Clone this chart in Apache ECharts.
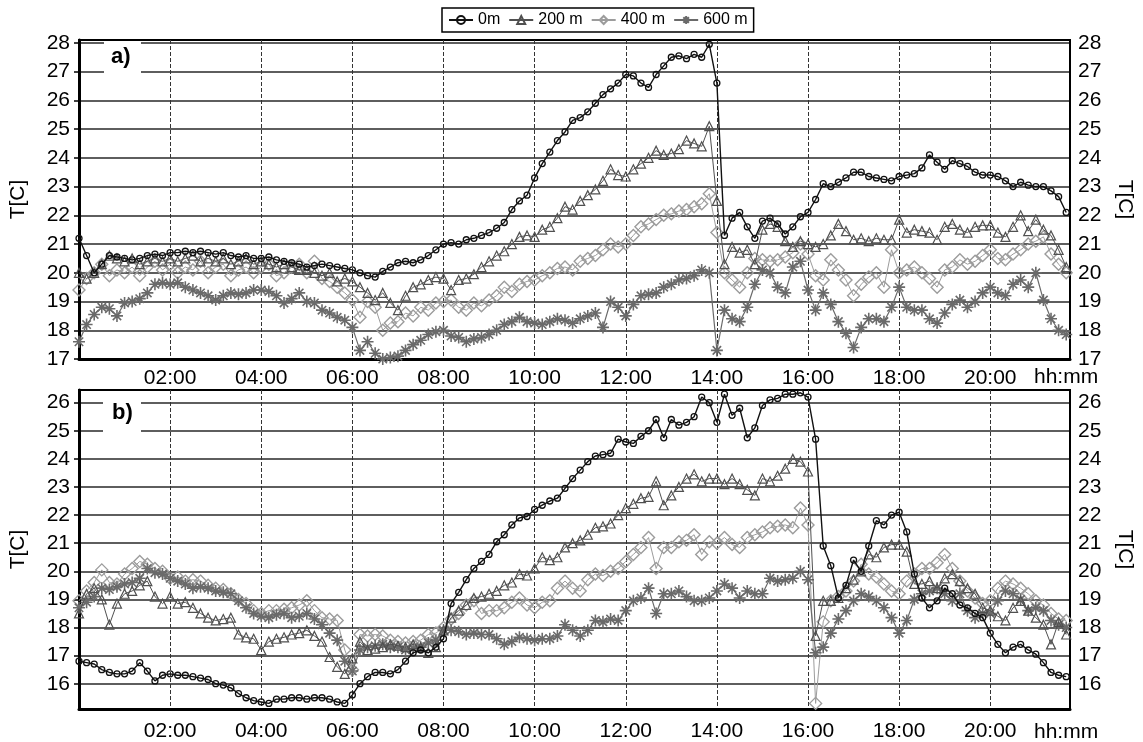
<!DOCTYPE html>
<html><head><meta charset="utf-8">
<script src="https://cdn.jsdelivr.net/npm/echarts@6/dist/echarts.min.js"></script>
<style>html,body{margin:0;padding:0;background:#fff}#c{width:1143px;height:742px}</style>
</head><body><div id="c"></div>
<script>
// sampling step (minutes) of all series
const STEP_MIN = 10;
const SERIES_NAMES = ['0m', '200 m', '400 m', '600 m'];
const X_TICKS = [120, 240, 360, 480, 600, 720, 840, 960, 1080, 1200];
const Y_TICKS_A = [17, 18, 19, 20, 21, 22, 23, 24, 25, 26, 27, 28];
const Y_TICKS_B = [16, 17, 18, 19, 20, 21, 22, 23, 24, 25, 26];

// panel a) values, one row per hour (10-min samples)
const A_0m = [
 21.2,20.6,20.0,20.3,20.6,20.55, 20.5,20.45,20.5,20.6,20.65,20.6, 20.7,20.7,20.75,20.7,20.75,20.7,
 20.65,20.7,20.6,20.55,20.6,20.5, 20.5,20.55,20.45,20.4,20.35,20.3, 20.2,20.25,20.3,20.25,20.2,20.15,
 20.1,20.0,19.9,19.85,20.05,20.2, 20.35,20.4,20.35,20.45,20.6,20.8, 21.0,21.05,21.0,21.15,21.2,21.3,
 21.4,21.55,21.75,22.2,22.5,22.7, 23.3,23.8,24.2,24.6,24.9,25.3, 25.4,25.6,25.9,26.2,26.4,26.6,
 26.9,26.85,26.6,26.45,26.9,27.2, 27.5,27.55,27.45,27.6,27.5,27.95, 26.6,21.3,21.9,22.1,21.6,21.2,
 21.8,21.9,21.7,21.35,21.6,21.95, 22.1,22.55,23.1,23.0,23.15,23.3, 23.5,23.5,23.35,23.3,23.25,23.2,
 23.35,23.4,23.45,23.65,24.1,23.85, 23.6,23.9,23.8,23.7,23.5,23.4, 23.4,23.35,23.2,23.0,23.15,23.05,
 23.0,23.0,22.85,22.65,22.1];
const A_200m = [
 20.0,19.8,20.0,20.3,20.6,20.5, 20.4,20.5,20.3,20.4,20.5,20.4, 20.5,20.4,20.5,20.6,20.4,20.5,
 20.4,20.5,20.3,20.4,20.5,20.3, 20.4,20.3,20.2,20.3,20.2,20.1, 20.1,20.0,19.9,20.0,19.7,19.8,
 19.7,19.5,19.3,19.05,19.3,18.95, 18.7,19.2,19.5,19.6,19.75,19.85, 19.8,19.4,19.75,19.8,19.95,20.2,
 20.4,20.6,20.75,21.0,21.25,21.3, 21.25,21.5,21.6,21.9,22.3,22.2, 22.5,22.7,22.9,23.2,23.6,23.4,
 23.35,23.6,23.8,24.0,24.25,24.1, 24.15,24.3,24.6,24.5,24.4,25.1, 22.5,20.3,20.9,20.7,20.8,20.3,
 21.5,21.7,21.6,21.1,20.9,21.1, 21.0,20.9,21.0,21.3,21.7,21.45, 21.15,21.2,21.1,21.2,21.15,21.15,
 21.85,21.4,21.5,21.45,21.4,21.15, 21.6,21.7,21.5,21.4,21.6,21.65, 21.65,21.4,21.25,21.6,22.0,21.45,
 21.85,21.5,21.3,20.8,20.2];
const A_400m = [
 19.4,19.8,20.0,20.3,19.9,20.1, 20.0,20.2,19.9,20.2,20.4,20.1, 20.3,20.0,20.2,20.1,20.4,20.0,
 20.2,20.3,19.9,20.1,20.2,20.0, 20.2,20.3,19.9,20.0,20.2,20.3, 20.0,20.4,19.8,19.7,19.5,19.3,
 19.05,18.45,19.0,18.8,18.0,18.25, 18.3,18.6,18.5,18.8,18.7,18.95, 19.0,19.05,18.8,18.7,18.95,18.85,
 19.05,19.2,19.5,19.35,19.6,19.7, 19.75,19.9,20.0,20.15,20.2,20.1, 20.4,20.5,20.6,20.8,21.0,20.9,
 21.0,21.3,21.6,21.7,21.85,22.0, 22.05,22.15,22.2,22.3,22.4,22.75, 21.4,20.0,19.75,19.5,20.0,20.5,
 20.45,20.4,20.45,20.55,20.7,21.0, 20.65,19.9,19.75,20.45,20.1,19.75, 19.2,19.6,19.85,20.0,19.5,20.8,
 20.0,20.1,20.2,20.0,19.8,19.5, 20.1,20.2,20.45,20.3,20.4,20.6, 20.8,20.5,20.45,20.65,20.8,21.0,
 21.1,21.25,20.65,20.3,20.0];
const A_600m = [
 17.6,18.2,18.55,18.8,18.75,18.5, 18.95,19.0,19.1,19.3,19.6,19.65, 19.6,19.65,19.5,19.4,19.3,19.2,
 19.05,19.2,19.3,19.25,19.3,19.4, 19.4,19.35,19.2,18.95,19.1,19.3, 19.0,18.95,18.7,18.6,18.45,18.35,
 18.1,17.3,17.6,17.2,17.0,17.05, 17.1,17.3,17.5,17.65,17.85,17.95, 18.0,17.8,17.75,17.6,17.7,17.75,
 17.85,18.0,18.2,18.3,18.45,18.3, 18.25,18.2,18.3,18.4,18.35,18.25, 18.4,18.5,18.6,18.1,19.0,18.8,
 18.5,18.9,19.2,19.25,19.3,19.5, 19.6,19.75,19.8,19.9,20.1,20.0, 17.3,18.7,18.4,18.3,18.8,19.6,
 20.1,20.0,19.5,19.3,20.2,20.4, 19.4,18.7,19.3,18.9,18.3,17.9, 17.4,18.1,18.4,18.4,18.3,18.8,
 19.5,18.8,18.7,18.7,18.4,18.25, 18.6,18.9,19.05,18.8,19.0,19.3, 19.5,19.3,19.2,19.6,19.75,19.5,
 20.0,19.05,18.4,18.0,17.85];

// panel b) values
const B_0m = [
 16.8,16.75,16.7,16.5,16.4,16.35, 16.35,16.45,16.75,16.45,16.1,16.3, 16.35,16.3,16.3,16.25,16.2,16.15,
 16.0,15.95,15.85,15.65,15.5,15.4, 15.35,15.3,15.45,15.45,15.5,15.5, 15.45,15.5,15.5,15.45,15.35,15.3,
 15.6,16.0,16.25,16.4,16.4,16.35, 16.5,16.8,17.1,17.2,17.1,17.3, 17.6,18.85,19.25,19.7,20.1,20.35,
 20.6,21.05,21.3,21.65,21.9,21.95, 22.2,22.35,22.5,22.6,22.95,23.3, 23.6,23.9,24.1,24.15,24.2,24.7,
 24.6,24.55,24.8,25.0,25.4,24.75, 25.4,25.2,25.3,25.5,26.2,26.0, 25.3,26.3,25.55,25.8,24.75,25.1,
 25.9,26.1,26.15,26.3,26.3,26.35, 26.2,24.7,20.9,20.2,19.05,19.5, 20.4,20.0,20.9,21.8,21.65,22.0,
 22.1,21.4,19.9,19.05,18.7,18.95, 19.4,19.2,18.8,18.7,18.5,18.35, 17.8,17.4,17.1,17.3,17.4,17.2,
 17.05,16.75,16.4,16.3,16.25];
const B_200m = [
 18.5,19.2,19.4,19.0,18.1,18.85, 19.2,19.3,19.5,19.65,19.1,18.85, 19.1,18.85,18.9,18.7,18.5,18.35,
 18.25,18.3,18.35,17.75,17.65,17.6, 17.2,17.5,17.6,17.65,17.75,17.8, 17.9,17.7,17.5,16.95,16.6,16.35,
 16.9,17.5,17.2,17.25,17.3,17.4, 17.35,17.3,17.4,17.3,17.1,17.3, 17.9,18.35,18.6,18.8,19.05,19.1,
 19.2,19.3,19.5,19.6,19.9,19.85, 20.1,20.5,20.4,20.5,20.85,21.0, 21.1,21.3,21.55,21.6,21.7,22.0,
 22.25,22.4,22.6,22.65,23.2,22.35, 22.7,23.0,23.3,23.45,23.2,23.3, 23.3,23.1,23.3,23.1,22.9,22.7,
 23.3,23.2,23.4,23.65,24.0,23.9, 23.55,17.7,18.95,18.95,19.05,19.4, 19.7,20.0,20.6,20.5,20.85,20.95,
 20.95,20.7,19.55,19.55,19.65,19.4, 19.75,19.9,19.65,19.4,19.2,18.7, 18.6,18.4,18.25,18.7,18.95,18.6,
 18.35,18.1,17.4,18.2,17.75];
const B_400m = [
 18.95,19.3,19.6,20.05,19.6,19.55, 19.9,20.1,20.35,20.25,20.1,20.0, 19.75,19.8,19.65,19.7,19.65,19.5,
 19.4,19.35,19.2,19.0,18.85,18.6, 18.5,18.6,18.6,18.65,18.7,18.8, 18.95,18.6,18.35,18.3,18.25,17.2,
 16.5,17.75,17.7,17.75,17.7,17.55, 17.5,17.45,17.5,17.55,17.75,17.8, 18.0,18.3,18.5,18.8,18.95,18.5,
 18.6,18.6,18.7,18.9,19.05,18.8, 18.7,18.9,18.95,19.4,19.65,19.4, 19.3,19.7,19.9,19.85,20.0,20.1,
 20.35,20.6,20.85,21.2,20.1,20.85, 20.85,21.05,21.1,21.3,20.6,21.05, 21.0,21.2,20.95,20.85,21.2,21.3,
 21.4,21.55,21.6,21.65,21.55,22.25, 21.65,15.3,18.2,18.95,19.1,19.3, 19.65,20.25,19.9,19.8,19.55,19.3,
 19.2,19.65,19.9,20.1,20.1,20.3, 20.6,20.1,19.65,19.3,19.05,18.85, 18.95,19.4,19.65,19.55,19.4,19.2,
 18.95,18.8,18.5,18.3,18.25];
const B_600m = [
 18.7,18.9,19.1,19.4,19.35,19.45, 19.55,19.6,19.75,20.1,19.95,19.9, 19.75,19.65,19.55,19.4,19.45,19.4,
 19.3,19.25,19.2,18.95,18.7,18.5, 18.4,18.35,18.45,18.5,18.35,18.4, 18.5,18.3,18.1,17.8,17.55,16.8,
 16.45,17.2,17.3,17.35,17.4,17.3, 17.3,17.2,17.25,17.3,17.45,17.55, 17.9,17.9,17.85,17.75,17.8,17.75,
 17.75,17.6,17.4,17.5,17.65,17.6, 17.55,17.6,17.6,17.7,18.1,17.9, 17.7,17.9,18.25,18.2,18.3,18.25,
 18.6,18.95,19.05,19.4,18.5,19.2, 19.2,19.3,19.1,18.95,18.95,19.05, 19.3,19.55,19.4,19.05,19.3,19.2,
 19.2,19.75,19.65,19.7,19.75,20.0, 19.7,17.1,17.3,17.8,18.3,18.6, 18.95,19.2,19.1,18.95,18.7,18.35,
 17.8,18.25,19.0,19.2,19.3,19.4, 19.2,18.95,19.2,18.6,18.35,18.5, 18.5,18.95,19.3,19.2,19.0,18.6,
 18.7,18.6,18.25,18.1,18.0];

const FONT = 'Liberation Sans, Arial, sans-serif';
const pad2 = n => (n < 10 ? '0' : '') + n;
const hhmm = v => pad2(Math.floor(v / 60)) + ':' + pad2(Math.round(v % 60));
const toPairs = arr => arr.map((v, i) => [i * STEP_MIN, v]);

const STAR = 'path://M5 0L5 10M0 5L10 5M1.5 1.5L8.5 8.5M1.5 8.5L8.5 1.5';
const STYLES = [
  {symbol: 'circle', size: 6, color: '#111', lw: 1.4, bw: 1.3, z: 6},
  {symbol: 'triangle', size: 9, color: '#505050', lw: 1, bw: 1.2, z: 5},
  {symbol: 'diamond', size: 12, color: '#9c9c9c', lw: 1, bw: 1.4, z: 3},
  {symbol: STAR, size: 12, color: '#6a6a6a', lw: 1.2, bw: 1.6, z: 4}
];

function mkSeries(data, k, xi, yi) {
  const s = STYLES[k];
  return {
    name: SERIES_NAMES[k], type: 'line', xAxisIndex: xi, yAxisIndex: yi,
    data: toPairs(data), symbol: s.symbol, symbolSize: s.size, showAllSymbol: true,
    z: s.z,
    lineStyle: {color: s.color, width: s.lw},
    itemStyle: {color: 'rgba(255,255,255,0)', borderColor: s.color, borderWidth: s.bw},
    emphasis: {disabled: true}
  };
}

function xAxis(gi, margin) {
  return {
    gridIndex: gi, type: 'value', min: 0, max: 1305,
    axisLine: {show: true, onZero: false, lineStyle: {color: '#000', width: 3}},
    axisTick: {show: false, customValues: X_TICKS},
    axisLabel: {customValues: X_TICKS, formatter: hhmm, fontSize: 21, color: '#000', fontFamily: FONT, margin: margin},
    splitLine: {show: true, lineStyle: {color: '#333', width: 1, type: [4, 2]}}
  };
}
function yAxisL(gi, min, max, ticks) {
  return {
    gridIndex: gi, type: 'value', position: 'left', min: min, max: max,
    name: 'T[C]', nameLocation: 'middle', nameGap: 50,
    nameTextStyle: {fontSize: 21, color: '#000', fontFamily: FONT},
    axisLine: {show: true, onZero: false, lineStyle: {color: '#000', width: 3}},
    axisTick: {show: true, length: 5, customValues: ticks, lineStyle: {color: '#000', width: 1.5}},
    axisLabel: {customValues: ticks, fontSize: 21, color: '#000', fontFamily: FONT, margin: 9},
    splitLine: {show: true, lineStyle: {color: '#5e5e5e', width: 1.8}}
  };
}
function yAxisR(gi, min, max, ticks) {
  return {
    gridIndex: gi, type: 'value', position: 'right', min: min, max: max,
    name: 'T[C]', nameLocation: 'middle', nameGap: 44, nameRotate: -90,
    nameTextStyle: {fontSize: 21, color: '#000', fontFamily: FONT},
    axisLine: {show: true, onZero: false, lineStyle: {color: '#000', width: 2}},
    axisTick: {show: false, customValues: ticks},
    axisLabel: {customValues: ticks, fontSize: 21, color: '#000', fontFamily: FONT, margin: 8},
    splitLine: {show: false}
  };
}

const chart = echarts.init(document.getElementById('c'), null, {renderer: 'canvas'});
chart.setOption({
  animation: false,
  backgroundColor: '#fff',
  textStyle: {fontFamily: FONT},
  legend: {
    left: 442, top: 8, padding: [4, 6], itemGap: 8, itemWidth: 24, itemHeight: 10,
    borderColor: '#000', borderWidth: 1.5, backgroundColor: '#fff',
    textStyle: {fontSize: 16, color: '#000', fontFamily: FONT},
    data: SERIES_NAMES, selectedMode: false
  },
  grid: [
    {left: 79, right: 66, top: 40, height: 319, show: true, borderColor: '#000', borderWidth: 2, backgroundColor: 'transparent'},
    {left: 79, right: 66, top: 390, height: 320, show: true, borderColor: '#000', borderWidth: 2, backgroundColor: 'transparent'}
  ],
  xAxis: [xAxis(0, 9), xAxis(1, 12)],
  yAxis: [
    yAxisL(0, 17, 28.1, Y_TICKS_A), yAxisR(0, 17, 28.1, Y_TICKS_A),
    yAxisL(1, 15.1, 26.45, Y_TICKS_B), yAxisR(1, 15.1, 26.45, Y_TICKS_B)
  ],
  series: [
    mkSeries(A_0m, 0, 0, 0), mkSeries(A_200m, 1, 0, 0), mkSeries(A_400m, 2, 0, 0), mkSeries(A_600m, 3, 0, 0),
    mkSeries(B_0m, 0, 1, 2), mkSeries(B_200m, 1, 1, 2), mkSeries(B_400m, 2, 1, 2), mkSeries(B_600m, 3, 1, 2)
  ],
  graphic: [
    {type: 'rect', z: 50, shape: {x: 104, y: 42, width: 37, height: 33}, style: {fill: '#fff'}},
    {type: 'text', z: 51, x: 111, y: 46, style: {text: 'a)', font: 'bold 22px ' + FONT, fill: '#000'}},
    {type: 'rect', z: 50, shape: {x: 103, y: 398, width: 38, height: 37}, style: {fill: '#fff'}},
    {type: 'text', z: 51, x: 112, y: 402, style: {text: 'b)', font: 'bold 22px ' + FONT, fill: '#000'}},
    {type: 'text', z: 51, x: 1034, y: 367, style: {text: 'hh:mm', font: '21px ' + FONT, fill: '#000'}},
    {type: 'text', z: 51, x: 1034, y: 722, style: {text: 'hh:mm', font: '21px ' + FONT, fill: '#000'}}
  ]
});
</script>
</body></html>
